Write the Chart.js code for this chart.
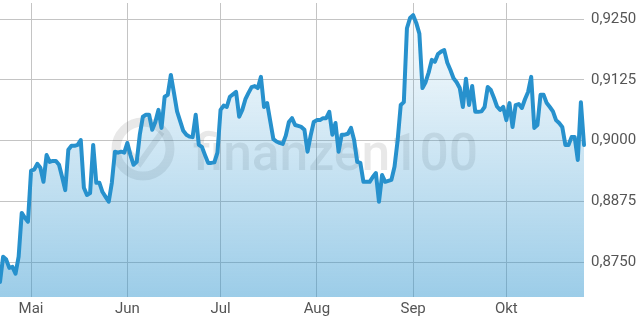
<!DOCTYPE html>
<html>
<head>
<meta charset="utf-8">
<script src="https://cdn.jsdelivr.net/npm/chart.js@4/dist/chart.umd.min.js"></script>
<style>
  html, body { margin: 0; padding: 0; background: #fff; }
  #wrap { width: 640px; height: 320px; }
</style>
</head>
<body>
<div id="wrap"><canvas id="kursChart" width="640" height="320"></canvas></div>
<script>
// Tageskurse ab 21.04.
const startDate = '2023-04-21';
const kurse = [
  0.8709, 0.8761, 0.8755, 0.8738, 0.8740, 0.8726, 0.8761, 0.8851, 0.8841, 0.8833,
  0.8938, 0.8940, 0.8952, 0.8944, 0.8915, 0.8970, 0.8956, 0.8958, 0.8958, 0.8950,
  0.8925, 0.8898, 0.8981, 0.8989, 0.8989, 0.8991, 0.9001, 0.8903, 0.8888, 0.8892,
  0.8991, 0.8913, 0.8913, 0.8894, 0.8884, 0.8874, 0.8913, 0.8977, 0.8975, 0.8977,
  0.8975, 0.8995, 0.8970, 0.8950, 0.8956, 0.9012, 0.9049, 0.9053, 0.9053, 0.9022,
  0.9038, 0.9063, 0.9026, 0.9090, 0.9094, 0.9135, 0.9098, 0.9060, 0.9040, 0.9020,
  0.9012, 0.9008, 0.9007, 0.9053, 0.8991, 0.8987, 0.8970, 0.8954, 0.8954, 0.8955,
  0.8975, 0.9063, 0.9072, 0.9069, 0.9090, 0.9095, 0.9100, 0.9049, 0.9063, 0.9085,
  0.9098, 0.9110, 0.9112, 0.9108, 0.9131, 0.9069, 0.9077, 0.9040, 0.9003, 0.8998,
  0.8995, 0.8993, 0.9010, 0.9038, 0.9046, 0.9032, 0.9030, 0.9028, 0.9022, 0.8977,
  0.9010, 0.9038, 0.9042, 0.9042, 0.9046, 0.9046, 0.9059, 0.9012, 0.9036, 0.8977,
  0.9012, 0.9012, 0.9014, 0.9026, 0.9001, 0.8956, 0.8954, 0.8915, 0.8915, 0.8915,
  0.8925, 0.8933, 0.8874, 0.8929, 0.8915, 0.8917, 0.8919, 0.8946, 0.9000, 0.9073,
  0.9079, 0.9231, 0.9252, 0.9258, 0.9242, 0.9220, 0.9108, 0.9120, 0.9140, 0.9166,
  0.9162, 0.9178, 0.9183, 0.9186, 0.9160, 0.9145, 0.9128, 0.9120, 0.9108, 0.9069,
  0.9127, 0.9073, 0.9112, 0.9059, 0.9059, 0.9060, 0.9069, 0.9110, 0.9104, 0.9088,
  0.9070, 0.9063, 0.9069, 0.9042, 0.9077, 0.9028, 0.9073, 0.9075, 0.9067, 0.9085,
  0.9100, 0.9131, 0.9026, 0.9032, 0.9094, 0.9094, 0.9077, 0.9069, 0.9060, 0.9042,
  0.9036, 0.9028, 0.8991, 0.8991, 0.9007, 0.9007, 0.8960, 0.9079, 0.8991
];
const monatsNamen = ['Jan', 'Feb', 'Mär', 'Apr', 'Mai', 'Jun', 'Jul', 'Aug', 'Sep', 'Okt', 'Nov', 'Dez'];
const yTicks = [0.8750, 0.8875, 0.9000, 0.9125, 0.9250];
const yMin = 0.8678;
const yMax = 0.9283;

// Datum je Kurs (ein Wert pro Kalendertag)
const tage = [];
const start = new Date(startDate + 'T00:00:00Z');
for (let i = 0; i < kurse.length; i++) {
  const d = new Date(start.getTime() + i * 86400000);
  tage.push(d);
}
const labels = tage.map(d => String(d.getUTCDate()).padStart(2, '0') + '.' + String(d.getUTCMonth() + 1).padStart(2, '0') + '.');

const linienFarbe = '#2791cd';

// Wasserzeichen hinter der Kurve
const watermark = {
  id: 'watermark',
  beforeDatasetsDraw(chart) {
    const c = chart.ctx;
    c.save();
    c.fillStyle = 'rgba(0,0,0,0.09)';
    c.strokeStyle = 'rgba(0,0,0,0.09)';
    // Logo
    c.lineWidth = 9;
    c.beginPath();
    c.arc(143, 149, 27, 0, Math.PI * 2);
    c.stroke();
    c.lineWidth = 6;
    c.beginPath();
    c.moveTo(127, 150);
    c.lineTo(140, 163);
    c.lineTo(162, 132);
    c.stroke();
    // Schriftzug
    c.font = '500 52px Roboto';
    c.textBaseline = 'alphabetic';
    const txt = 'finanzen100';
    const w = c.measureText(txt).width;
    c.translate(193, 170);
    c.scale(285 / w, 1);
    c.fillText(txt, 0, 0);
    c.restore();
  }
};

const keinPadding = (scale) => {
  scale.paddingTop = 0;
  scale.paddingBottom = 0;
  scale.paddingLeft = 0;
  scale.paddingRight = 0;
};

const ctx = document.getElementById('kursChart').getContext('2d');
new Chart(ctx, {
  type: 'line',
  data: {
    labels: labels,
    datasets: [{
      data: kurse,
      borderColor: linienFarbe,
      borderWidth: 4,
      borderJoinStyle: 'round',
      borderCapStyle: 'round',
      pointRadius: 0,
      tension: 0,
      fill: 'start',
      backgroundColor: (context) => {
        const area = context.chart.chartArea;
        if (!area) return 'rgba(39,145,205,0.2)';
        const g = context.chart.ctx.createLinearGradient(0, area.top, 0, area.bottom);
        g.addColorStop(0, 'rgba(39,145,205,0.0)');
        g.addColorStop(1, 'rgba(39,145,205,0.46)');
        return g;
      }
    }]
  },
  options: {
    responsive: false,
    animation: false,
    events: [],
    layout: { padding: { top: 3, left: 0, right: 0, bottom: 0 } },
    plugins: {
      legend: { display: false },
      tooltip: { enabled: false }
    },
    scales: {
      x: {
        type: 'category',
        offset: false,
        border: { display: false },
        grid: { color: '#c4c4c4', lineWidth: 1, drawTicks: false },
        afterBuildTicks: (scale) => {
          scale.ticks = tage
            .map((d, i) => ({ d, i }))
            .filter(o => o.d.getUTCDate() === 1)
            .map(o => ({ value: o.i }));
        },
        afterFit: (scale) => { scale.height = 23; keinPadding(scale); },
        ticks: {
          autoSkip: false,
          maxRotation: 0,
          padding: 3,
          color: '#555',
          font: { family: 'Roboto', size: 15 },
          callback: (value) => monatsNamen[tage[value].getUTCMonth()]
        }
      },
      y: {
        position: 'right',
        min: yMin,
        max: yMax,
        border: { display: false },
        grid: { color: '#c4c4c4', lineWidth: 1, drawTicks: false },
        afterBuildTicks: (scale) => {
          scale.ticks = yTicks.map(v => ({ value: v }));
        },
        afterFit: (scale) => { scale.width = 56; keinPadding(scale); },
        ticks: {
          padding: 7,
          color: '#555',
          font: { family: 'Roboto', size: 15 },
          callback: (value) => value.toFixed(4).replace('.', ',')
        }
      }
    }
  },
  plugins: [watermark]
});
</script>
</body>
</html>
